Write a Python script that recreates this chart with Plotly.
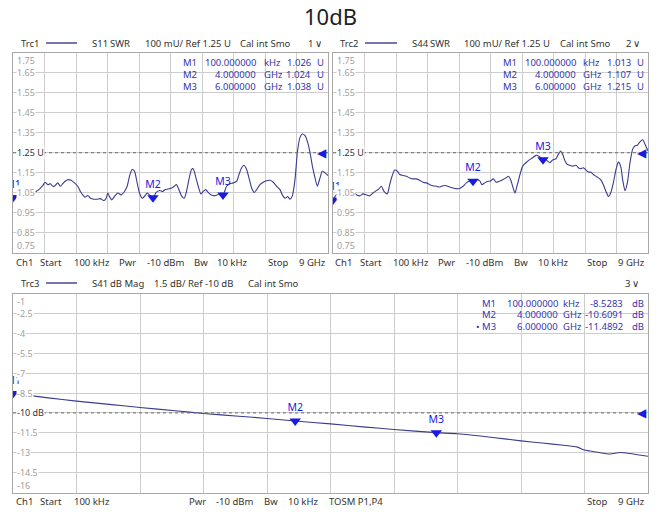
import plotly.graph_objects as go

W, H = 660, 512
FONT = "Noto Sans"

# ---------------- data ----------------
freq_s11 = [0.0, 0.087, 0.182, 0.277, 0.373, 0.468, 0.563, 0.658, 0.754, 0.849, 0.916, 0.992,
            1.069, 1.135, 1.202, 1.278, 1.355, 1.421, 1.488, 1.564, 1.660, 1.755, 1.850, 1.927,
            1.993, 2.060, 2.136, 2.213, 2.308, 2.403, 2.499, 2.594, 2.661, 2.708, 2.756, 2.823,
            2.899, 2.994, 3.090, 3.185, 3.261, 3.328, 3.404, 3.471, 3.547, 3.614, 3.690, 3.757,
            3.833, 3.900, 4.000, 4.090, 4.186, 4.281, 4.339, 4.434, 4.529, 4.605, 4.672, 4.739,
            4.815, 4.892, 4.958, 5.025, 5.101, 5.149, 5.216, 5.292, 5.368, 5.435, 5.502, 5.578,
            5.654, 5.750, 5.845, 5.940, 6.000, 6.103, 6.198, 6.293, 6.389, 6.456, 6.532, 6.598,
            6.675, 6.742, 6.818, 6.894, 6.961, 7.056, 7.151, 7.247, 7.342, 7.437, 7.533, 7.628,
            7.695, 7.771, 7.847, 7.914, 7.981, 8.057, 8.124, 8.200, 8.267, 8.343, 8.419, 8.486,
            8.553, 8.629, 8.695, 8.772, 8.838, 8.915, 9.000]
swr_s11 = [1.030, 1.031, 1.034, 1.039, 1.034, 1.039, 1.048, 1.056, 1.068, 1.085, 1.102, 1.090,
           1.095, 1.082, 1.085, 1.099, 1.082, 1.095, 1.107, 1.115, 1.112, 1.099, 1.082, 1.056,
           1.039, 1.027, 1.036, 1.022, 1.017, 1.017, 1.020, 1.010, 1.022, 1.048, 1.031, 1.014,
           1.031, 1.048, 1.039, 1.056, 1.082, 1.132, 1.166, 1.158, 1.099, 1.048, 1.022, 1.031,
           1.048, 1.039, 1.024, 1.051, 1.061, 1.056, 1.065, 1.068, 1.073, 1.082, 1.090, 1.065,
           1.034, 1.022, 1.056, 1.115, 1.166, 1.170, 1.132, 1.082, 1.044, 1.056, 1.065, 1.051,
           1.039, 1.034, 1.039, 1.048, 1.038, 1.082, 1.095, 1.099, 1.107, 1.141, 1.175, 1.187,
           1.166, 1.124, 1.073, 1.051, 1.065, 1.090, 1.102, 1.110, 1.112, 1.102, 1.082, 1.065,
           1.039, 1.022, 1.031, 1.017, 1.034, 1.115, 1.251, 1.327, 1.344, 1.336, 1.302, 1.251,
           1.183, 1.124, 1.082, 1.124, 1.158, 1.149, 1.136]

freq_s44 = [0.0, 0.095, 0.190, 0.286, 0.381, 0.476, 0.571, 0.667, 0.762, 0.857, 0.952, 1.048,
            1.143, 1.238, 1.305, 1.381, 1.457, 1.552, 1.619, 1.686, 1.762, 1.838, 1.905, 2.000,
            2.095, 2.190, 2.286, 2.381, 2.476, 2.571, 2.667, 2.762, 2.857, 2.952, 3.048, 3.143,
            3.238, 3.333, 3.429, 3.524, 3.619, 3.714, 3.810, 3.905, 4.000, 4.095, 4.190, 4.257,
            4.333, 4.429, 4.486, 4.581, 4.657, 4.752, 4.848, 4.943, 5.010, 5.076, 5.133, 5.200,
            5.267, 5.343, 5.419, 5.514, 5.610, 5.705, 5.800, 5.895, 6.000, 6.057, 6.124, 6.200,
            6.276, 6.371, 6.438, 6.505, 6.562, 6.629, 6.695, 6.771, 6.848, 6.943, 7.010, 7.076,
            7.152, 7.229, 7.295, 7.362, 7.438, 7.514, 7.581, 7.648, 7.724, 7.800, 7.867, 7.933,
            8.010, 8.086, 8.152, 8.219, 8.276, 8.343, 8.410, 8.486, 8.562, 8.629, 8.695, 8.771,
            8.848, 8.914, 9.000]
swr_s44 = [1.015, 1.039, 1.044, 1.051, 1.056, 1.051, 1.056, 1.039, 1.034, 1.044, 1.039, 1.034,
           1.048, 1.060, 1.068, 1.082, 1.056, 1.044, 1.090, 1.132, 1.163, 1.158, 1.141, 1.136,
           1.132, 1.124, 1.119, 1.119, 1.112, 1.102, 1.099, 1.090, 1.085, 1.082, 1.078, 1.085,
           1.085, 1.078, 1.073, 1.070, 1.071, 1.082, 1.099, 1.107, 1.107, 1.115, 1.110, 1.090,
           1.099, 1.107, 1.107, 1.119, 1.102, 1.107, 1.115, 1.124, 1.132, 1.115, 1.082, 1.048,
           1.090, 1.141, 1.183, 1.200, 1.214, 1.225, 1.237, 1.231, 1.215, 1.220, 1.209, 1.200,
           1.214, 1.220, 1.242, 1.259, 1.242, 1.209, 1.192, 1.187, 1.183, 1.187, 1.175, 1.170,
           1.175, 1.163, 1.153, 1.153, 1.141, 1.132, 1.124, 1.115, 1.090, 1.056, 1.031, 1.048,
           1.099, 1.166, 1.203, 1.183, 1.115, 1.060, 1.099, 1.200, 1.268, 1.285, 1.288, 1.305,
           1.315, 1.293, 1.259]

freq_s41 = [0.0, 0.5, 0.9, 1.4, 1.8, 2.3, 2.7, 3.2, 3.6, 4.0, 4.5, 5.0, 5.4, 6.0, 6.3, 6.8,
            7.2, 7.5, 7.8, 8.0, 8.1, 8.27, 8.46, 8.6, 8.74, 9.0]
db_s41 = [-8.53, -8.87, -9.11, -9.38, -9.59, -9.84, -10.04, -10.25, -10.42, -10.61, -10.83,
          -11.07, -11.25, -11.49, -11.57, -11.85, -12.11, -12.27, -12.44, -12.58, -12.80,
          -12.95, -13.10, -12.99, -13.06, -13.27]

marker_names = ["M1", "M2", "M3"]
marker_freq = [0.0001, 4.0, 6.0]
marker_freq_text = ["100.000000", "4.000000", "6.000000"]
marker_units = ["kHz", "GHz", "GHz"]
s11_marker_vals = [1.026, 1.024, 1.038]
s44_marker_vals = [1.013, 1.107, 1.215]
s41_marker_vals = [-8.5283, -10.6091, -11.4892]

swr_ticks = [1.75, 1.65, 1.55, 1.45, 1.35, 1.25, 1.15, 1.05, 0.95, 0.85, 0.75]
swr_tick_text = ["1.75", "1.65", "1.55", "1.45", "1.35", "1.25 U", "1.15", "1.05", "0.95", "0.85", "0.75"]
db_ticks = [-1, -2.5, -4, -5.5, -7, -8.5, -10, -11.5, -13, -14.5, -16]
db_tick_text = ["-1", "-2.5", "-4", "-5.5", "-7", "-8.5", "-10 dB", "-11.5", "-13", "-14.5", "-16"]
swr_ref = 1.25
db_ref = -10

# ---------------- styling ----------------
TRACE_C = "#3b3b8f"
MARK_C = "#1a1ae0"
READ_C = "#3535b0"
GRID_C = "#cdcdcd"
BORDER_C = "#a8a8a8"
TEXT_C = "#333333"
HS = 9.5   # header / footer font size
RS = 9.5   # readout font size


def px(x):
    return x / W


def py(y):
    return 1 - y / H


fig = go.Figure()

panels = [
    dict(xa="x", ya="y", xd=[13, 328], yd=[53, 252.5], rng=[0.75, 1.75], dt=0.1,
         fx=freq_s11, fy=swr_s11, mv=s11_marker_vals, ticks=swr_ticks, tt=swr_tick_text, ref=swr_ref),
    dict(xa="x2", ya="y2", xd=[333, 648], yd=[53, 252.5], rng=[0.75, 1.75], dt=0.1,
         fx=freq_s44, fy=swr_s44, mv=s44_marker_vals, ticks=swr_ticks, tt=swr_tick_text, ref=swr_ref),
    dict(xa="x3", ya="y3", xd=[13, 648], yd=[293.5, 492.5], rng=[-16, -1], dt=1.5,
         fx=freq_s41, fy=db_s41, mv=s41_marker_vals, ticks=db_ticks, tt=db_tick_text, ref=db_ref),
]

annotations = []
shapes = []

for i, p in enumerate(panels):
    sfx = "" if i == 0 else str(i + 1)
    fig.add_trace(go.Scatter(x=p["fx"], y=p["fy"], mode="lines", xaxis=p["xa"], yaxis=p["ya"],
                             line=dict(color=TRACE_C, width=1.1, shape="spline", smoothing=0.6),
                             hoverinfo="skip", showlegend=False))
    fig.add_trace(go.Scatter(x=marker_freq, y=p["mv"], mode="markers+text", xaxis=p["xa"], yaxis=p["ya"],
                             marker=dict(symbol="triangle-down", size=10, color=MARK_C),
                             text=marker_names, textposition="top center",
                             textfont=dict(family=FONT, size=10.5, color=MARK_C),
                             cliponaxis=True, hoverinfo="skip", showlegend=False))
    ax = dict(domain=[px(p["xd"][0]), px(p["xd"][1])], range=[0, 9], tick0=0, dtick=0.9,
              showgrid=True, gridcolor=GRID_C, gridwidth=1, showticklabels=False, ticks="",
              zeroline=False, showline=True, mirror=True, linecolor=BORDER_C, linewidth=1,
              anchor="y" + sfx)
    ay = dict(domain=[py(p["yd"][1]), py(p["yd"][0])], range=p["rng"], tick0=p["rng"][0], dtick=p["dt"],
              showgrid=True, gridcolor=GRID_C, gridwidth=1, showticklabels=False, ticks="",
              zeroline=False, showline=True, mirror=True, linecolor=BORDER_C, linewidth=1,
              anchor="x" + sfx)
    fig.update_layout(**{"xaxis" + sfx: ax, "yaxis" + sfx: ay})

    # reference line
    shapes.append(dict(type="line", xref=p["xa"] + " domain", x0=0, x1=1, yref=p["ya"],
                       y0=p["ref"], y1=p["ref"], line=dict(color="#6a6a6a", width=1, dash="dot")))
    # reference triangle at right edge
    annotations.append(dict(xref=p["xa"] + " domain", x=1, yref=p["ya"], y=p["ref"], text="◀",
                            showarrow=False, xanchor="right", yanchor="middle", xshift=1,
                            font=dict(family="DejaVu Sans", size=12, color=MARK_C)))
    # y tick labels
    n = len(p["ticks"])
    for k, (tv, tl) in enumerate(zip(p["ticks"], p["tt"])):
        is_ref = tv == p["ref"]
        ya = "middle"
        if k == 0:
            ya = "top"
        elif k == n - 1:
            ya = "bottom"
        annotations.append(dict(xref=p["xa"] + " domain", x=0, yref=p["ya"], y=tv, text=tl,
                                showarrow=False, xanchor="left", yanchor=ya, xshift=3,
                                bgcolor="white", borderpad=0,
                                font=dict(family=FONT, size=9,
                                          color="#333333" if is_ref else "#a0a0a0")))


def txt(x, y, s, size=HS, color=TEXT_C, anchor="left"):
    annotations.append(dict(x=px(x), y=py(y), xref="paper", yref="paper", text=s, showarrow=False,
                            xanchor=anchor, yanchor="middle", borderpad=0,
                            font=dict(family=FONT, size=size, color=color)))


# Title
txt(330, 16, "10dB", size=22, color="#222222", anchor="center")


# Headers
def header(y, parts, lx):
    for xx, s in parts:
        txt(xx, y, s)
    shapes.append(dict(type="line", xref="paper", yref="paper", x0=px(lx[0]), x1=px(lx[1]),
                       y0=py(y), y1=py(y), line=dict(color="#2e2e80", width=1.3)))


header(43, [(20, "Trc1"), (91, "S11"), (109, "SWR"), (144, "100 mU/ Ref 1.25 U"),
            (239, "Cal int Smo"), (307, "1"), (314, "∨")], (46, 77))
header(43, [(339, "Trc2"), (411, "S44"), (429, "SWR"), (463, "100 mU/ Ref 1.25 U"),
            (559, "Cal int Smo"), (625, "2"), (632, "∨")], (365, 397))
header(283, [(20, "Trc3"), (91, "S41"), (109, "dB Mag"), (153, "1.5 dB/ Ref -10 dB"),
             (247, "Cal int Smo"), (624, "3"), (631, "∨")], (46, 77))

# Footers
foot_l = [(15, "Ch1"), (39, "Start"), (73, "100 kHz"), (118, "Pwr"), (146, "-10 dBm"),
          (193, "Bw"), (216, "10 kHz"), (267, "Stop"), (298, "9 GHz")]
for xx, s in foot_l:
    txt(xx, 262, s)
foot_r = [(334, "Ch1"), (359, "Start"), (392, "100 kHz"), (437, "Pwr"), (465, "-10 dBm"),
          (513, "Bw"), (537, "10 kHz"), (586, "Stop"), (617, "9 GHz")]
for xx, s in foot_r:
    txt(xx, 262, s)
foot_b = [(15, "Ch1"), (39, "Start"), (73, "100 kHz"), (188, "Pwr"), (215, "-10 dBm"),
          (263, "Bw"), (287, "10 kHz"), (328, "TOSM P1,P4"), (586, "Stop"), (617, "9 GHz")]
for xx, s in foot_b:
    txt(xx, 501, s)

# Marker readouts
rows_top = [62, 74, 86]
for k in range(3):
    txt(198, rows_top[k], marker_names[k], size=RS, color=READ_C, anchor="right")
    txt(257, rows_top[k], marker_freq_text[k], size=RS, color=READ_C, anchor="right")
    txt(263, rows_top[k], marker_units[k], size=RS, color=READ_C)
    txt(312, rows_top[k], f"{s11_marker_vals[k]:.3f}", size=RS, color=READ_C, anchor="right")
    txt(316, rows_top[k], "U", size=RS, color=READ_C)
    txt(518, rows_top[k], marker_names[k], size=RS, color=READ_C, anchor="right")
    txt(577, rows_top[k], marker_freq_text[k], size=RS, color=READ_C, anchor="right")
    txt(582, rows_top[k], marker_units[k], size=RS, color=READ_C)
    txt(632, rows_top[k], f"{s44_marker_vals[k]:.3f}", size=RS, color=READ_C, anchor="right")
    txt(636, rows_top[k], "U", size=RS, color=READ_C)

rows_b = [303, 314.5, 326.5]
for k in range(3):
    name = ("• " if k == 2 else "") + marker_names[k]
    txt(497, rows_b[k], name, size=RS, color=READ_C, anchor="right")
    txt(559, rows_b[k], marker_freq_text[k], size=RS, color=READ_C, anchor="right")
    txt(562, rows_b[k], marker_units[k], size=RS, color=READ_C)
    txt(624, rows_b[k], f"{s41_marker_vals[k]:.4f}", size=RS, color=READ_C, anchor="right")
    txt(631, rows_b[k], "dB", size=RS, color=READ_C)

fig.update_layout(width=W, height=H, margin=dict(l=0, r=0, t=0, b=0),
                  paper_bgcolor="white", plot_bgcolor="white",
                  annotations=annotations, shapes=shapes, showlegend=False,
                  font=dict(family=FONT, size=10, color=TEXT_C))

fig.write_html("out.html", config={"displayModeBar": False},
               post_script="document.body.style.margin='0px';document.body.style.overflow='hidden';")
